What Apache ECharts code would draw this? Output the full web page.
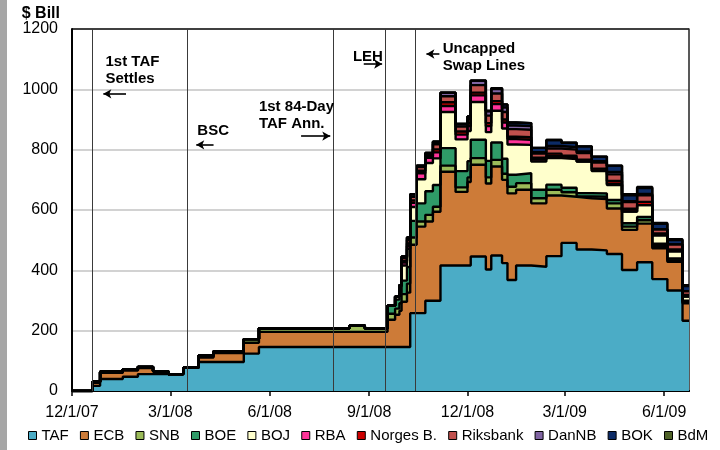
<!DOCTYPE html>
<html>
<head>
<meta charset="utf-8">
<script src="https://cdn.jsdelivr.net/npm/echarts@6/dist/echarts.min.js"></script>
<style>
html,body{margin:0;padding:0;}
body{width:720px;height:450px;background:linear-gradient(to right,#a6a6a6 0,#a6a6a6 7px,#ffffff 7px);}
#chart{width:720px;height:450px;}
</style>
</head>
<body>
<div id="chart"></div>
<script>
// Step dates: each value holds until the next date
const dates = [
  '2007-12-01','2007-12-20','2007-12-27','2008-01-17','2008-01-31','2008-02-14','2008-02-28',
  '2008-03-13','2008-03-27','2008-04-10','2008-05-08','2008-05-22','2008-08-14','2008-08-28',
  '2008-09-18','2008-09-25','2008-09-29','2008-10-01','2008-10-06','2008-10-09','2008-10-15',
  '2008-10-23','2008-10-30','2008-11-06','2008-11-20','2008-12-01','2008-12-04','2008-12-18',
  '2008-12-23','2009-01-02','2009-01-07','2009-01-15','2009-01-29','2009-02-12','2009-02-26',
  '2009-03-12','2009-03-26','2009-04-09','2009-04-23','2009-05-07','2009-05-21','2009-06-04',
  '2009-06-18','2009-06-24'
];

// Outstanding amounts, $ billions
const taf = [0,17,40,47,56,56,56,77,96,96,124,146,146,146,146,146,146,146,146,258,258,299,299,416,416,416,446,403,449,424,368,416,412,447,491,469,466,454,401,427,371,333,233,233];
const ecb = [0,10,20,21,20,8,0,0,15,30,36,50,50,50,90,107,120,150,180,227,287,263,295,311,244,277,304,285,295,276,287,251,210,201,153,170,170,151,133,128,102,95,58,58];
const snb = [0,4,4,4,4,2,0,0,6,6,12,12,21,12,20,20,25,25,30,24,17,22,17,20,15,15,22,20,22,20,22,22,17,19,15,6,8,17,11,11,7,5,4,4];
const boe = [0,0,0,0,0,0,0,0,0,0,0,0,0,0,27,30,35,45,55,55,60,78,72,58,54,54,61,55,58,50,40,33,28,17,15,11,11,11,11,11,8,6,4,4];
const boj = [0,0,0,0,0,0,0,0,0,0,0,0,0,0,0,10,20,50,60,46,80,94,88,120,105,100,125,95,105,100,100,94,94,88,95,105,74,50,39,39,28,24,14,14];
const rba = [0,0,0,0,0,0,0,0,0,0,0,0,0,0,0,0,5,10,10,14,20,17,20,20,16,16,22,20,22,20,18,17,6,7,4,0,2,3,0,0,0,0,0,0];
const norges = [0,0,0,0,0,0,0,0,0,0,0,0,0,0,0,0,0,5,8,8,8,5,10,12,10,10,9,10,10,10,8,8,6,8,7,6,6,10,9,11,6,6,5,5];
const riksbank = [0,0,0,0,0,0,0,0,0,0,0,0,0,0,0,0,0,10,12,12,12,8,17,20,17,14,25,25,25,25,25,25,14,17,20,22,20,22,22,22,14,17,13,13];
const dannb = [0,0,0,0,0,0,0,0,0,0,0,0,0,0,0,0,0,5,8,8,5,3,8,12,8,8,15,15,15,15,12,12,5,8,8,5,5,8,3,4,0,0,0,0];
const bok = [0,0,0,0,0,0,0,0,0,0,0,0,0,0,0,0,0,0,0,0,0,0,0,0,0,0,0,0,3,10,10,10,14,20,15,17,15,21,20,20,18,14,17,17];
const bdm = [0,0,0,0,0,0,0,0,0,0,0,0,0,0,0,0,0,0,0,0,0,0,0,0,0,0,0,0,0,0,0,0,0,0,0,0,0,0,3,3,3,3,3,3];

const seriesNames = ['TAF','ECB','SNB','BOE','BOJ','RBA','Norges B.','Riksbank','DanNB','BOK','BdM'];
const seriesValues = [taf, ecb, snb, boe, boj, rba, norges, riksbank, dannb, bok, bdm];
const seriesColors = ['#4BACC6','#CD7B38','#9BBB59','#2F9B68','#FFFFCC','#FF3399','#CC0000','#C0504D','#8064A2','#0C2B66','#4F6228'];

// Axis ticks
const tickDates = ['2007-12-01','2008-03-01','2008-06-01','2008-09-01','2008-12-01','2009-03-01','2009-06-01'];
const tickLabels = ['12/1/07','3/1/08','6/1/08','9/1/08','12/1/08','3/1/09','6/1/09'];
const yTicks = [0, 200, 400, 600, 800, 1000, 1200];

// Event markers
const eventDates = ['2007-12-20','2008-03-17','2008-07-30','2008-09-16','2008-10-14'];
const eventTexts = [
  { date: '2008-01-01', y: 1118, text: '1st TAF\nSettles' },
  { date: '2008-03-26', y: 889,  text: 'BSC' },
  { date: '2008-05-22', y: 969,  text: '1st 84-Day\nTAF Ann.' },
  { date: '2008-08-17', y: 1137, text: 'LEH' },
  { date: '2008-11-08', y: 1161, text: 'Uncapped\nSwap Lines' }
];
const eventArrows = [
  { from: '2008-01-20', to: '2007-12-30', y: 985 },
  { from: '2008-04-10', to: '2008-03-25', y: 816 },
  { from: '2008-06-30', to: '2008-07-27', y: 845 },
  { from: '2008-08-27', to: '2008-09-13', y: 1084 },
  { from: '2008-11-05', to: '2008-10-24', y: 1117 }
];

const FONT = "'Liberation Sans', Arial, sans-serif";

function t(s) {
  const p = s.split('-').map(Number);
  return new Date(p[0], p[1] - 1, p[2]).getTime();
}
const times = dates.map(t);
const tickTimes = tickDates.map(t);
const xMin = t('2007-12-01');
const xMax = t('2009-06-24');

function tickLabel(v) {
  let best = 0;
  for (let i = 1; i < tickTimes.length; i++) {
    if (Math.abs(tickTimes[i] - v) < Math.abs(tickTimes[best] - v)) best = i;
  }
  return tickLabels[best];
}

const markLineData = eventDates.map(d => ({
  xAxis: t(d),
  lineStyle: { color: '#3a3a3a', width: 1, type: 'solid' }
})).concat(eventArrows.map(a => [
  { coord: [t(a.from), a.y], symbol: 'none', lineStyle: { color: '#000', width: 1.6, type: 'solid' } },
  { coord: [t(a.to), a.y], symbol: 'arrow', symbolSize: [7, 8] }
]));

const markPointData = eventTexts.map(a => ({
  coord: [t(a.date), a.y],
  name: a.text
}));

const series = seriesNames.map((name, i) => {
  const s = {
    name: name,
    type: 'line',
    xAxisIndex: 0,
    yAxisIndex: 0,
    stack: 'total',
    step: 'end',
    symbol: 'none',
    silent: true,
    data: times.map((tm, j) => [tm, seriesValues[i][j]]),
    lineStyle: { color: '#000', width: 2.4 },
    itemStyle: { color: seriesColors[i] },
    areaStyle: { color: seriesColors[i], opacity: 1 },
    emphasis: { disabled: true }
  };
  if (i === 0) {
    s.markLine = {
      silent: true,
      symbol: ['none', 'none'],
      label: { show: false },
      data: markLineData
    };
    s.markPoint = {
      silent: true,
      symbol: 'circle',
      symbolSize: 0,
      label: {
        show: true,
        position: [0, 0],
        formatter: '{b}',
        color: '#000',
        fontFamily: FONT,
        fontWeight: 'bold',
        fontSize: 15,
        lineHeight: 17
      },
      data: markPointData
    };
  }
  return s;
});

const chart = echarts.init(document.getElementById('chart'), null, { renderer: 'canvas' });
chart.setOption({
  animation: false,
  textStyle: { fontFamily: FONT },
  grid: { left: 72, right: 31, top: 29, bottom: 59, containLabel: false },
  legend: {
    left: 28,
    top: 428,
    padding: 0,
    itemGap: 11.2,
    itemWidth: 8,
    itemHeight: 8,
    icon: 'rect',
    selectedMode: false,
    textStyle: { fontSize: 15, color: '#000', fontFamily: FONT },
    itemStyle: { borderColor: '#000', borderWidth: 1 },
    data: seriesNames.map((n, i) => ({ name: n, itemStyle: { color: seriesColors[i], borderColor: '#000', borderWidth: 1 } }))
  },
  xAxis: [{
    // date scale carrying the series
    type: 'time',
    position: 'bottom',
    min: xMin,
    max: xMax,
    axisLine: { show: true, lineStyle: { color: '#000', width: 2 } },
    axisTick: { show: false },
    axisLabel: { show: false },
    splitLine: { show: false }
  }, {
    // quarterly ticks and labels over the same span
    type: 'value',
    position: 'bottom',
    min: xMin,
    max: xMax,
    axisLine: { show: true, lineStyle: { color: '#000', width: 2 } },
    axisTick: { show: true, customValues: tickTimes, length: 5, lineStyle: { color: '#000', width: 1.5 } },
    axisLabel: {
      customValues: tickTimes,
      formatter: v => tickLabel(v),
      color: '#000',
      fontSize: 16,
      fontFamily: FONT,
      margin: 14,
      hideOverlap: false
    },
    splitLine: { show: false }
  }],
  yAxis: [{
    type: 'value',
    min: 0,
    max: 1200,
    interval: 200,
    name: '$ Bill',
    nameLocation: 'end',
    nameGap: 7,
    nameTextStyle: {
      fontWeight: 'bold', fontSize: 16, color: '#000', fontFamily: FONT,
      align: 'right', verticalAlign: 'bottom', padding: [0, 12, 0, 0]
    },
    axisLine: { show: true, lineStyle: { color: '#000', width: 2 } },
    axisTick: { show: false },
    axisLabel: { color: '#000', fontSize: 16, fontFamily: FONT, margin: 14, formatter: v => String(v) },
    splitLine: {
      show: true,
      lineStyle: { color: yTicks.map((v, i) => i === yTicks.length - 1 ? '#000' : '#c3c3c3'), width: 1.5 }
    }
  }, {
    type: 'value',
    position: 'right',
    min: 0,
    max: 1200,
    interval: 200,
    axisLine: { show: true, lineStyle: { color: '#222', width: 1.5 } },
    axisTick: { show: false },
    axisLabel: { show: false },
    splitLine: { show: false }
  }],
  series: series
});
</script>
</body>
</html>
